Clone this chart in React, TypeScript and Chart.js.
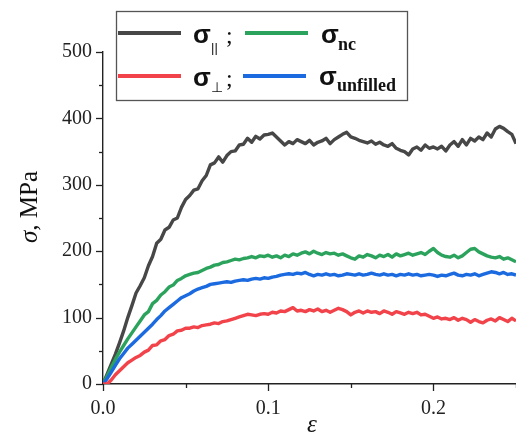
import React, { useEffect, useRef } from "react";
import { Chart, registerables } from "chart.js";

Chart.register(...registerables);

const strain = [
  0, 0.0025, 0.005, 0.0075, 0.01, 0.0125, 0.015, 0.0175, 0.02, 0.0225,
  0.025, 0.0275, 0.03, 0.0325, 0.035, 0.0375, 0.04, 0.0425, 0.045, 0.0475,
  0.05, 0.0525, 0.055, 0.0575, 0.06, 0.0625, 0.065, 0.0675, 0.07, 0.0725,
  0.075, 0.0775, 0.08, 0.0825, 0.085, 0.0875, 0.09, 0.0925, 0.095, 0.0975,
  0.1, 0.1025, 0.105, 0.1075, 0.11, 0.1125, 0.115, 0.1175, 0.12, 0.1225,
  0.125, 0.1275, 0.13, 0.1325, 0.135, 0.1375, 0.14, 0.1425, 0.145, 0.1475,
  0.15, 0.1525, 0.155, 0.1575, 0.16, 0.1625, 0.165, 0.1675, 0.17, 0.1725,
  0.175, 0.1775, 0.18, 0.1825, 0.185, 0.1875, 0.19, 0.1925, 0.195, 0.1975,
  0.2, 0.2025, 0.205, 0.2075, 0.21, 0.2125, 0.215, 0.2175, 0.22, 0.2225,
  0.225, 0.2275, 0.23, 0.2325, 0.235, 0.2375, 0.24, 0.2425, 0.245, 0.2475,
  0.25,
];

const sigmaParallel = [
  0, 15, 30, 45, 62, 80, 100, 118, 137, 148,
  160, 178, 192, 212, 218, 232, 236, 247, 250, 266,
  278, 284, 292, 294, 306, 314, 330, 333, 342, 334,
  344, 350, 351, 360, 361, 370, 364, 373, 369, 375,
  376, 378, 372, 366, 360, 365, 362, 368, 365, 362,
  367, 360, 364, 366, 370, 362, 368, 372, 376, 379,
  372, 370, 367, 365, 363, 366, 361, 364, 360, 358,
  362, 355, 352, 350, 345, 354, 357, 352, 360, 355,
  357, 354, 358, 351, 360, 365, 358, 368, 360, 370,
  366, 372, 368, 378, 372, 384, 388, 385, 380, 376,
  362,
];

const sigmaNc = [
  0, 12, 25, 37, 48, 58, 68, 77, 86, 95,
  104, 109, 121, 126, 134, 139, 146, 149, 156, 159,
  163, 165, 167, 168, 171, 174, 176, 179, 180, 183,
  184, 186, 188, 187, 189, 190, 192, 190, 193, 192,
  194, 191, 193, 190, 194, 192, 196, 194, 197, 199,
  196, 200, 197, 195, 198, 196, 197, 194, 196, 193,
  190, 188, 193, 191, 195, 193, 190, 194, 192, 195,
  191, 196, 193, 195, 197, 194, 196, 198, 195, 200,
  204, 198, 194, 192, 191, 194, 190, 193, 198, 203,
  204, 199, 196, 193, 191, 190, 192, 188, 190, 187,
  184,
];

const sigmaUnfilled = [
  0, 8, 18, 28, 38, 46, 54, 60, 66, 72,
  78, 84, 90, 97, 103, 110, 115, 120, 125, 130,
  133, 136, 140, 143, 145, 147, 150, 151, 152, 153,
  154, 153, 155, 156, 157, 156, 158, 159, 158, 160,
  159, 161, 162, 164, 165, 166, 165, 167, 166, 168,
  165, 163, 165, 164, 166, 164, 165, 163, 164, 166,
  165, 164, 166, 164, 165, 167, 165, 164, 166, 164,
  165, 163, 165, 164, 166, 164, 165, 163, 164, 165,
  164, 162, 164, 163, 165, 167, 164, 163, 165, 164,
  166, 163, 165, 167, 169, 168, 166, 168, 165, 166,
  164,
];

const sigmaPerp = [
  0, 0, 6, 14, 20, 26, 32, 36, 40, 43,
  48, 51, 58, 59, 65, 67, 73, 75, 80, 81,
  84, 84, 86, 85, 88, 89, 90, 92, 91, 94,
  95, 97, 99, 101, 103, 105, 104, 103, 105, 106,
  105, 108, 107, 110, 109, 112, 115, 110, 111, 109,
  112, 110, 113, 109, 111, 108, 111, 114, 112, 109,
  104, 108, 110, 107, 110, 108, 109, 106, 110, 108,
  105, 109, 107, 105, 108, 106, 108, 104, 105, 102,
  99, 101, 98, 99, 97, 100, 96, 99, 97, 93,
  97, 94, 92, 96, 98, 95, 100, 97, 94, 99,
  95,
];

const yTicks = [0, 50, 100, 150, 200, 250, 300, 350, 400, 450, 500];
const xTicks = [0, 0.05, 0.1, 0.15, 0.2, 0.25];
const majorY = [0, 100, 200, 300, 400, 500];
const majorX = [0, 0.1, 0.2];

const COLORS = {
  parallel: "#474747",
  nc: "#2ba35c",
  unfilled: "#1b6ae0",
  perp: "#f2434a",
};

const SERIF = '"Liberation Serif", "Times New Roman", serif';
const SANS = '"Liberation Sans", Arial, sans-serif';

const decorPlugin = {
  id: "decor",
  afterDraw(chart: any) {
    const ctx = chart.ctx as CanvasRenderingContext2D;
    const xs = chart.scales.x;
    const ys = chart.scales.y;
    const area = chart.chartArea;
    ctx.save();
    ctx.strokeStyle = "#222";
    ctx.lineWidth = 1.3;
    yTicks.forEach((v) => {
      const py = Math.round(ys.getPixelForValue(v)) + 0.5;
      const len = majorY.includes(v) ? 7 : 4;
      ctx.beginPath();
      ctx.moveTo(area.left, py);
      ctx.lineTo(area.left - len, py);
      ctx.stroke();
    });
    xTicks.forEach((v) => {
      const px = Math.round(xs.getPixelForValue(v)) + 0.5;
      const len = majorX.some((m) => Math.abs(m - v) < 1e-9) ? 7 : 4;
      ctx.beginPath();
      ctx.moveTo(px, area.bottom);
      ctx.lineTo(px, area.bottom + len);
      ctx.stroke();
    });

    ctx.fillStyle = "#111";
    ctx.textBaseline = "alphabetic";
    ctx.save();
    ctx.translate(37, 207);
    ctx.rotate(-Math.PI / 2);
    ctx.font = `italic 25px ${SERIF}`;
    const sW = ctx.measureText("σ").width;
    ctx.font = `25px ${SERIF}`;
    const restW = ctx.measureText(", MPa").width;
    const start = -(sW + restW) / 2;
    ctx.textAlign = "left";
    ctx.font = `italic 25px ${SERIF}`;
    ctx.fillText("σ", start, 0);
    ctx.font = `25px ${SERIF}`;
    ctx.fillText(", MPa", start + sW, 0);
    ctx.restore();
    ctx.font = `italic 25px ${SERIF}`;
    ctx.textAlign = "center";
    ctx.fillText("ε", 312, 432);

    ctx.fillStyle = "#fff";
    ctx.fillRect(116.5, 11.5, 291, 89);
    ctx.strokeStyle = "#555";
    ctx.lineWidth = 1.3;
    ctx.strokeRect(116.5, 11.5, 291, 89);

    const seg = (color: string, x1: number, x2: number, y: number) => {
      ctx.strokeStyle = color;
      ctx.lineWidth = 4;
      ctx.lineCap = "butt";
      ctx.beginPath();
      ctx.moveTo(x1, y);
      ctx.lineTo(x2, y);
      ctx.stroke();
    };
    seg(COLORS.parallel, 118, 181, 33);
    seg(COLORS.nc, 245, 308, 33);
    seg(COLORS.perp, 118, 181, 76);
    seg(COLORS.unfilled, 243, 306, 76);

    ctx.fillStyle = "#111";
    ctx.textAlign = "left";
    ctx.font = `bold 26px ${SANS}`;
    ctx.fillText("σ", 193, 43);
    ctx.font = `13px ${SANS}`;
    ctx.fillText("||", 211, 52);
    ctx.font = `24px ${SERIF}`;
    ctx.fillText(";", 226, 43);
    ctx.font = `bold 26px ${SANS}`;
    ctx.fillText("σ", 321, 43);
    ctx.font = `bold 18px ${SERIF}`;
    ctx.fillText("nc", 338, 50);
    ctx.font = `bold 26px ${SANS}`;
    ctx.fillText("σ", 193, 86);
    ctx.font = `14px ${SERIF}`;
    ctx.fillText("⊥", 211, 92);
    ctx.font = `24px ${SERIF}`;
    ctx.fillText(";", 226, 86);
    ctx.font = `bold 26px ${SANS}`;
    ctx.fillText("σ", 319, 85);
    ctx.font = `bold 18px ${SERIF}`;
    ctx.fillText("unfilled", 337, 91);

    ctx.restore();
  },
};

export default function App() {
  const ref = useRef<HTMLCanvasElement | null>(null);

  useEffect(() => {
    if (!ref.current) return;
    const mk = (d: number[]) => strain.map((x, i) => ({ x, y: d[i] }));
    const line = (label: string, data: number[], color: string) => ({
      label,
      data: mk(data),
      borderColor: color,
      backgroundColor: color,
      borderWidth: 3.4,
      pointRadius: 0,
      tension: 0,
      borderJoinStyle: "round" as const,
      fill: false,
    });
    const chart = new Chart(ref.current, {
      type: "line",
      data: {
        datasets: [
          line("σ⊥", sigmaPerp, COLORS.perp),
          line("σunfilled", sigmaUnfilled, COLORS.unfilled),
          line("σnc", sigmaNc, COLORS.nc),
          line("σ||", sigmaParallel, COLORS.parallel),
        ],
      },
      options: {
        animation: false,
        responsive: false,
        maintainAspectRatio: false,
        layout: { padding: { top: 52, left: 0, right: 0, bottom: 0 } },
        plugins: {
          legend: { display: false },
          tooltip: { enabled: false },
          title: { display: false },
        },
        scales: {
          x: {
            type: "linear",
            min: 0,
            max: 0.25,
            grid: { display: false, drawTicks: false },
            border: { display: true, color: "#222", width: 1.4 },
            ticks: {
              stepSize: 0.05,
              autoSkip: false,
              maxRotation: 0,
              padding: 13,
              color: "#222",
              font: { family: SERIF, size: 20 },
              callback: (v: any) => {
                const n = Math.round(Number(v) * 100);
                if (n === 0 || n === 10 || n === 20) return (n / 100).toFixed(1);
                return "";
              },
            },
            afterFit: (s: any) => {
              s.height = 50;
              s.paddingRight = 0;
              s.paddingLeft = 0;
            },
          },
          y: {
            type: "linear",
            min: 0,
            max: 500,
            grid: { display: false, drawTicks: false },
            border: { display: true, color: "#222", width: 1.4 },
            ticks: {
              stepSize: 50,
              autoSkip: false,
              padding: 11,
              color: "#222",
              font: { family: SERIF, size: 20 },
              callback: (v: any) => (Number(v) % 100 === 0 ? String(v) : ""),
            },
            afterFit: (s: any) => {
              s.width = 103;
              s.paddingTop = 0;
              s.paddingBottom = 0;
            },
          },
        },
      },
      plugins: [decorPlugin],
    });
    return () => chart.destroy();
  }, []);

  return (
    <div style={{ position: "absolute", left: 0, top: 0, width: 516, height: 434, background: "#fff" }}>
      <canvas ref={ref} width={516} height={434} style={{ display: "block" }} />
    </div>
  );
}
